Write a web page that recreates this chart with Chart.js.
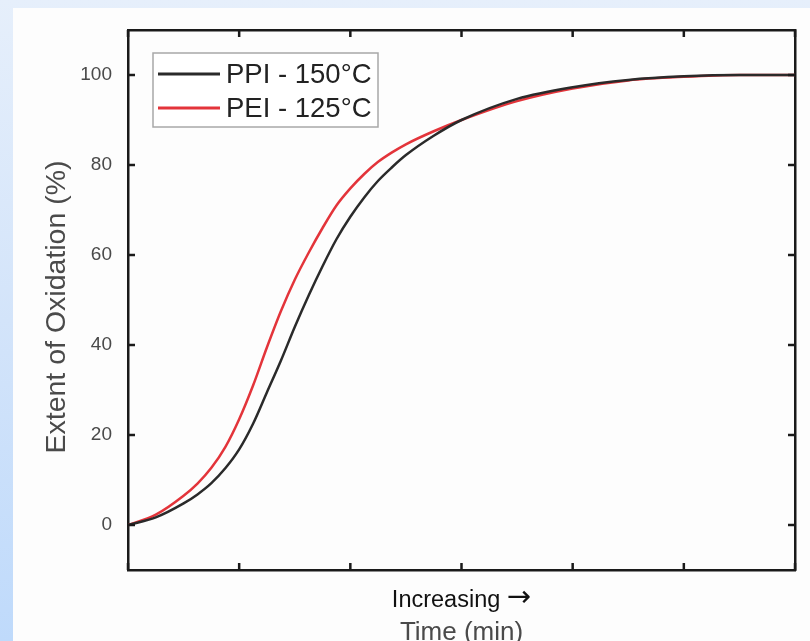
<!DOCTYPE html>
<html>
<head>
<meta charset="utf-8">
<script src="https://cdn.jsdelivr.net/npm/chart.js@4.4.1/dist/chart.umd.min.js"></script>
<style>
  html, body { margin: 0; padding: 0; }
  body {
    width: 810px; height: 641px; overflow: hidden; position: relative;
    background: linear-gradient(180deg, #e6effb 0%, #d3e4fa 50%, #bfdafb 100%);
  }
  #panel { position: absolute; left: 13px; top: 8px; right: 0; bottom: 0; background: #fdfdfd; }
  #wrap { position: absolute; left: 0; top: 0; width: 810px; height: 641px; }
</style>
</head>
<body>
<div id="panel"></div>
<div id="wrap"><canvas id="chart"></canvas></div>
<script>
// values (time axis has no numbers, 0..6 tick units)
const timeValues = [0, 0.25, 0.5, 0.625, 0.75, 0.875, 1.0, 1.125, 1.25, 1.375, 1.5, 1.625, 1.75, 1.875, 2.0, 2.125, 2.25, 2.375, 2.5, 2.75, 3.0, 3.5, 4.0, 4.5, 5.0, 5.5, 6.0];
const ppiValues  = [0, 1.7, 4.8, 6.8, 9.3, 12.6, 16.8, 22.5, 29.5, 36.5, 44, 51, 57.5, 63.5, 68.5, 72.8, 76.5, 79.5, 82.2, 86.5, 90, 94.7, 97.3, 98.9, 99.7, 100, 100];
const peiValues  = [0, 2.3, 6.5, 9.2, 12.7, 17.3, 23.5, 31, 39.5, 47.5, 54.5, 60.5, 66, 71, 74.8, 78, 80.7, 82.8, 84.6, 87.5, 90, 94.2, 97, 98.8, 99.6, 100, 100];
const seriesLabels = ['PPI - 150°C', 'PEI - 125°C'];
const yTicks = [0, 20, 40, 60, 80, 100];
const xTicks = [0, 1, 2, 3, 4, 5, 6];

const COLORS = {
  ppi: '#2a2a2a',
  pei: '#e3343a',
  frame: '#1a1a1a',
  tickText: '#4a4a4a',
};

const FONT = '"Liberation Sans", Arial, sans-serif';

function toPoints(values) {
  return timeValues.map((t, i) => ({ x: t, y: values[i] }));
}

const fixTicks = list => scale => { scale.ticks = list.map(v => ({ value: v })); };

// inward tick marks on all four sides, plus legend and axis titles
const decorations = {
  id: 'decorations',
  afterDraw(chart) {
    const { ctx, chartArea: a, scales } = chart;
    ctx.save();
    ctx.strokeStyle = COLORS.frame;
    ctx.lineWidth = 2.5;
    const len = 7;
    xTicks.forEach(v => {
      const px = scales.x.getPixelForValue(v);
      ctx.beginPath();
      ctx.moveTo(px, a.bottom); ctx.lineTo(px, a.bottom - len);
      ctx.moveTo(px, a.top); ctx.lineTo(px, a.top + len);
      ctx.stroke();
    });
    yTicks.forEach(v => {
      const py = scales.y.getPixelForValue(v);
      ctx.beginPath();
      ctx.moveTo(a.left, py); ctx.lineTo(a.left + len, py);
      ctx.moveTo(a.right, py); ctx.lineTo(a.right - len, py);
      ctx.stroke();
    });

    // legend box
    const bx = 153, by = 53, bw = 225, bh = 74;
    ctx.fillStyle = '#ffffff';
    ctx.fillRect(bx, by, bw, bh);
    ctx.strokeStyle = '#a8a8a8';
    ctx.lineWidth = 1.5;
    ctx.strokeRect(bx, by, bw, bh);
    ctx.font = '27.5px ' + FONT;
    ctx.textBaseline = 'middle';
    ctx.textAlign = 'left';
    chart.data.datasets.forEach((ds, i) => {
      const ly = by + 21 + i * 34;
      ctx.strokeStyle = ds.borderColor;
      ctx.lineWidth = 3;
      ctx.beginPath();
      ctx.moveTo(bx + 5, ly); ctx.lineTo(bx + 67, ly);
      ctx.stroke();
      ctx.fillStyle = '#222';
      ctx.fillText(ds.label, bx + 73, ly + 1);
    });

    // axis titles
    const cx = (a.left + a.right) / 2;
    ctx.textBaseline = 'alphabetic';
    ctx.textAlign = 'left';
    ctx.fillStyle = '#111';
    const wordFont = '23.5px ' + FONT;
    const arrowFont = '29px "DejaVu Sans", sans-serif';
    ctx.font = wordFont;
    const wordW = ctx.measureText('Increasing ').width;
    ctx.font = arrowFont;
    const arrowW = ctx.measureText('\u2192').width;
    const startX = cx - (wordW + arrowW) / 2;
    ctx.font = wordFont;
    ctx.fillText('Increasing ', startX, 607);
    ctx.font = arrowFont;
    ctx.fillText('\u2192', startX + wordW, 606);

    ctx.textAlign = 'center';
    ctx.fillStyle = '#4a4a4a';
    ctx.font = '26px ' + FONT;
    ctx.fillText('Time (min)', cx, 640);

    ctx.translate(65, 307);
    ctx.rotate(-Math.PI / 2);
    ctx.font = '28.5px ' + FONT;
    ctx.fillStyle = '#4a4a4a';
    ctx.fillText('Extent of Oxidation (%)', 0, 0);
    ctx.restore();
  }
};

const frameBorder = { display: true, color: COLORS.frame, width: 2.5 };

new Chart(document.getElementById('chart'), {
  type: 'line',
  data: {
    datasets: [
      {
        label: seriesLabels[0], data: toPoints(ppiValues), borderColor: COLORS.ppi,
        borderWidth: 2.5, pointRadius: 0, cubicInterpolationMode: 'monotone', fill: false,
      },
      {
        label: seriesLabels[1], data: toPoints(peiValues), borderColor: COLORS.pei,
        borderWidth: 2.5, pointRadius: 0, cubicInterpolationMode: 'monotone', fill: false,
      },
    ],
  },
  options: {
    responsive: true, maintainAspectRatio: false, animation: false,
    layout: { padding: { top: 30, right: 15, left: 0, bottom: 0 } },
    plugins: { legend: { display: false }, tooltip: { enabled: false } },
    scales: {
      x: {
        type: 'linear', position: 'bottom', min: 0, max: 6,
        afterBuildTicks: fixTicks(xTicks), afterFit: s => { s.height = 71; },
        ticks: { display: false }, grid: { display: false }, border: frameBorder,
      },
      x2: {
        type: 'linear', position: 'top', min: 0, max: 6,
        afterFit: s => { s.height = 0; },
        ticks: { display: false }, grid: { display: false }, border: frameBorder,
      },
      y: {
        type: 'linear', position: 'left', min: -10, max: 110,
        afterBuildTicks: fixTicks(yTicks), afterFit: s => { s.width = 128; },
        ticks: { padding: 16, color: COLORS.tickText, font: { family: FONT, size: 19 } },
        grid: { display: false, drawTicks: false }, border: frameBorder,
      },
      y2: {
        type: 'linear', position: 'right', min: -10, max: 110,
        afterFit: s => { s.width = 0; },
        ticks: { display: false }, grid: { display: false }, border: frameBorder,
      },
    },
  },
  plugins: [decorations],
});
</script>
</body>
</html>
